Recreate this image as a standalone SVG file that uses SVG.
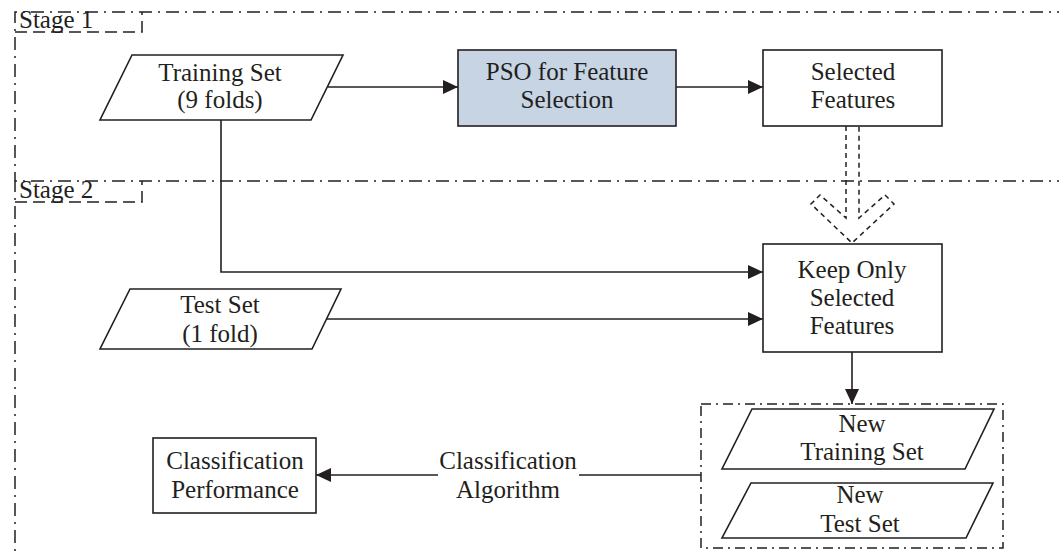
<svg xmlns="http://www.w3.org/2000/svg" width="1059" height="555" viewBox="0 0 1059 555">
  <style>
    .t { font-family: "Liberation Serif", "Times New Roman", serif; font-size: 25px; fill: #231f20; text-anchor: middle; }
    .tl { font-family: "Liberation Serif", "Times New Roman", serif; font-size: 25px; fill: #231f20; }
    .box { fill: #ffffff; stroke: #231f20; stroke-width: 1.6; }
    .pso { fill: #c6d4e4; stroke: #231f20; stroke-width: 1.6; }
    .line { fill: none; stroke: #231f20; stroke-width: 1.6; }
    .stage { fill: none; stroke: #231f20; stroke-width: 1.5; stroke-dasharray: 13 6 2 6; }
    .label { fill: none; stroke: #231f20; stroke-width: 1.5; stroke-dasharray: 12 6; }
    .group { fill: none; stroke: #231f20; stroke-width: 1.5; stroke-dasharray: 10 5 2 5; }
    .hollow { fill: none; stroke: #231f20; stroke-width: 1.5; stroke-dasharray: 5 4; }
  </style>
  <defs>
    <marker id="arr" markerUnits="userSpaceOnUse" markerWidth="16" markerHeight="14" refX="15" refY="7" orient="auto">
      <path d="M0,0 L15,7 L0,14 z" fill="#231f20"/>
    </marker>
  </defs>
  <rect width="1059" height="555" fill="#ffffff"/>

  <g id="stage1">
    <path class="stage" d="M1070,12 L15,12 L15,181"/>
    <path class="label" d="M15,32 L142,32 L142,12"/>
    <text class="tl" x="19" y="28">Stage 1</text>
  </g>
  <g id="stage2">
    <path class="stage" d="M1070,181 L15,181 L15,560"/>
    <path class="label" d="M15,202 L142,202 L142,181"/>
    <text class="tl" x="19" y="198">Stage 2</text>
  </g>

  <g id="connectors">
    <line class="line" x1="328" y1="87" x2="458" y2="87" marker-end="url(#arr)"/>
    <line class="line" x1="676" y1="87" x2="763" y2="87" marker-end="url(#arr)"/>
    <path class="line" d="M221,120 L221,272 L763,272" marker-end="url(#arr)"/>
    <line class="line" x1="327" y1="319" x2="763" y2="319" marker-end="url(#arr)"/>
    <line class="line" x1="852" y1="352" x2="852" y2="404" marker-end="url(#arr)"/>
    <line class="line" x1="701" y1="475" x2="579" y2="475"/>
    <line class="line" x1="438" y1="475" x2="316" y2="475" marker-end="url(#arr)"/>
    <path id="hollow-arrow" class="hollow" d="M846,126 L846,218 L820,195 L811,204 L852,243 L894,204 L885,195 L859,218 L859,126"/>
    <text class="t" x="508" y="469">Classification</text>
    <text class="t" x="508" y="498">Algorithm</text>
  </g>

  <g id="training-set">
    <polygon class="box" points="132,55 343,55 311,120 100,120"/>
    <text class="t" x="220" y="81">Training Set</text>
    <text class="t" x="220" y="108">(9 folds)</text>
  </g>
  <g id="pso">
    <rect class="pso" x="458" y="50" width="218" height="76"/>
    <text class="t" x="567" y="80">PSO for Feature</text>
    <text class="t" x="567" y="108">Selection</text>
  </g>
  <g id="selected-features">
    <rect class="box" x="763" y="50" width="179" height="76"/>
    <text class="t" x="853" y="80">Selected</text>
    <text class="t" x="853" y="108">Features</text>
  </g>
  <g id="test-set">
    <polygon class="box" points="130,289 341,289 312,349 100,349"/>
    <text class="t" x="220" y="313">Test Set</text>
    <text class="t" x="220" y="342">(1 fold)</text>
  </g>
  <g id="keep-only">
    <rect class="box" x="763" y="244" width="179" height="108"/>
    <text class="t" x="852" y="278">Keep Only</text>
    <text class="t" x="852" y="306">Selected</text>
    <text class="t" x="852" y="334">Features</text>
  </g>
  <g id="new-sets">
    <rect class="group" x="701" y="404" width="302" height="144"/>
  </g>
  <g id="new-training-set">
    <polygon class="box" points="752,409 994,409 965,469 722,469"/>
    <text class="t" x="862" y="432">New</text>
    <text class="t" x="862" y="460">Training Set</text>
  </g>
  <g id="new-test-set">
    <polygon class="box" points="751,483 993,483 966,538 722,538"/>
    <text class="t" x="860" y="503">New</text>
    <text class="t" x="860" y="532">Test Set</text>
  </g>
  <g id="classification-performance">
    <rect class="box" x="153" y="438" width="163" height="75"/>
    <text class="t" x="235" y="469">Classification</text>
    <text class="t" x="235" y="498">Performance</text>
  </g>
</svg>
